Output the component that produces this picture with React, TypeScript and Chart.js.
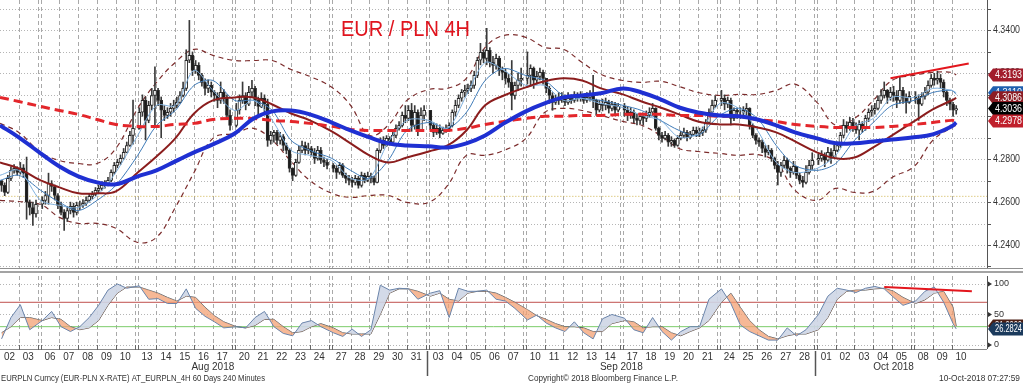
import { useEffect, useRef } from "react";
import { Chart, registerables } from "chart.js";

Chart.register(...registerables);

// ---------------- DATA ----------------
const dayLabels = [
  "02", "03", "06", "07", "08", "09", "10", "13", "14", "15", "16", "17", "20", "21", "22", "23", "24", "27", "28", "29", "30", "31",
  "03", "04", "05", "06", "07", "10", "11", "12", "13", "14", "17", "18", "19", "20", "21", "24", "25", "26", "27", "28",
  "01", "02", "03", "04", "05", "08", "09", "10",
];
const monthLabels = ["Aug 2018", "Sep 2018", "Oct 2018"];
const monthFirstDay = [0, 22, 42];
const fridayIdx = [1, 6, 11, 16, 21, 26, 31, 36, 41, 46];

const firstOpen = 4.27;
// 4H closes, 6 per trading day
const closes = [
  4.2678, 4.2645, 4.2711, 4.2748, 4.2757, 4.2739,
  4.2760, 4.2735, 4.2600, 4.2575, 4.2545, 4.2590,
  4.2608, 4.2631, 4.2687, 4.2673, 4.2631, 4.2585,
  4.2552, 4.2524, 4.2561, 4.2580, 4.2552, 4.2585,
  4.2585, 4.2594, 4.2608, 4.2627, 4.2636, 4.2655,
  4.2664, 4.2678, 4.2687, 4.2701, 4.2739, 4.2771,
  4.2785, 4.2804, 4.2832, 4.2864, 4.2911, 4.2944,
  4.3019, 4.3074, 4.2981, 4.3051, 4.3097, 4.3121,
  4.3074, 4.3028, 4.3004, 4.3019, 4.3037, 4.3051,
  4.3065, 4.3097, 4.3130, 4.3261, 4.3284, 4.3214,
  4.3237, 4.3191, 4.3158, 4.3130, 4.3144, 4.3112,
  4.3097, 4.3074, 4.3112, 4.3084, 4.3004, 4.2958,
  4.3028, 4.3074, 4.3097, 4.3056, 4.3112, 4.3130,
  4.3074, 4.3046, 4.3084, 4.3056, 4.2888, 4.2911,
  4.2925, 4.2888, 4.2906, 4.2864, 4.2841, 4.2757,
  4.2725, 4.2785, 4.2841, 4.2864, 4.2841, 4.2850,
  4.2832, 4.2804, 4.2841, 4.2795, 4.2785, 4.2771,
  4.2757, 4.2739, 4.2771, 4.2725, 4.2711, 4.2701,
  4.2692, 4.2711, 4.2678, 4.2725, 4.2701, 4.2720,
  4.2711, 4.2692, 4.2841, 4.2888, 4.2864, 4.2897,
  4.2879, 4.2911, 4.2944, 4.2958, 4.3004, 4.2990,
  4.3028, 4.2958, 4.3019, 4.2935, 4.3004, 4.3028,
  4.2958, 4.2925, 4.2944, 4.2920, 4.2935, 4.2944,
  4.2958, 4.3019, 4.3051, 4.3084, 4.3112, 4.3121,
  4.3130, 4.3144, 4.3191, 4.3261, 4.3298, 4.3270,
  4.3307, 4.3251, 4.3237, 4.3270, 4.3214, 4.3205,
  4.3177, 4.3158, 4.3097, 4.3144, 4.3168, 4.3177,
  4.3191, 4.3223, 4.3168, 4.3186, 4.3205, 4.3177,
  4.3130, 4.3097, 4.3065, 4.3084, 4.3074, 4.3093,
  4.3065, 4.3084, 4.3074, 4.3097, 4.3084, 4.3093,
  4.3074, 4.3088, 4.3097, 4.3074, 4.3028, 4.3056,
  4.3051, 4.3065, 4.3037, 4.3056, 4.3028, 4.3046,
  4.3028, 4.3004, 4.3019, 4.2990, 4.2981, 4.3000,
  4.2990, 4.3004, 4.3019, 4.3037, 4.2944, 4.2911,
  4.2897, 4.2911, 4.2879, 4.2888, 4.2864, 4.2897,
  4.2911, 4.2925, 4.2902, 4.2916, 4.2935, 4.2920,
  4.2925, 4.2935, 4.2972, 4.3019, 4.3051, 4.3074,
  4.3084, 4.3056, 4.3074, 4.2990, 4.3028, 4.3019,
  4.3019, 4.3028, 4.3037, 4.2958, 4.2911, 4.2888,
  4.2879, 4.2850, 4.2832, 4.2841, 4.2804, 4.2771,
  4.2739, 4.2771, 4.2795, 4.2757, 4.2739, 4.2767,
  4.2725, 4.2701, 4.2692, 4.2739, 4.2771, 4.2795,
  4.2804, 4.2818, 4.2795, 4.2832, 4.2813, 4.2841,
  4.2864, 4.2911, 4.2958, 4.2944, 4.2972, 4.2954,
  4.2935, 4.2963, 4.2944, 4.2990, 4.3019, 4.3028,
  4.3037, 4.3074, 4.3097, 4.3121, 4.3088, 4.3112,
  4.3097, 4.3074, 4.3121, 4.3084, 4.3065, 4.3093,
  4.3084, 4.3056, 4.3093, 4.3112, 4.3144, 4.3177,
  4.3168, 4.3177, 4.3158, 4.3112, 4.3074, 4.3056,
  4.3028, 4.3036,
];
const highs = [
  4.2700, 4.2690, 4.2725, 4.2765, 4.2775, 4.2765,
  4.2785, 4.2775, 4.2810, 4.2610, 4.2600, 4.2610,
  4.2625, 4.2650, 4.2735, 4.2700, 4.2680, 4.2640,
  4.2600, 4.2565, 4.2580, 4.2600, 4.2595, 4.2600,
  4.2605, 4.2612, 4.2625, 4.2640, 4.2650, 4.2668,
  4.2680, 4.2695, 4.2700, 4.2715, 4.2750, 4.2785,
  4.2800, 4.2820, 4.2850, 4.2880, 4.2930, 4.3075,
  4.3040, 4.3100, 4.3090, 4.3070, 4.3130, 4.3230,
  4.3130, 4.3090, 4.3050, 4.3040, 4.3060, 4.3075,
  4.3090, 4.3115, 4.3160, 4.3310, 4.3447, 4.3300,
  4.3260, 4.3250, 4.3200, 4.3175, 4.3170, 4.3160,
  4.3120, 4.3110, 4.3160, 4.3125, 4.3100, 4.3030,
  4.3060, 4.3100, 4.3160, 4.3110, 4.3140, 4.3168,
  4.3140, 4.3090, 4.3110, 4.3100, 4.3080, 4.2930,
  4.2935, 4.2935, 4.2925, 4.2915, 4.2875, 4.2850,
  4.2760, 4.2800, 4.2860, 4.2885, 4.2880, 4.2875,
  4.2860, 4.2850, 4.2860, 4.2855, 4.2810, 4.2800,
  4.2780, 4.2770, 4.2785, 4.2780, 4.2735, 4.2725,
  4.2715, 4.2725, 4.2720, 4.2740, 4.2735, 4.2740,
  4.2735, 4.2720, 4.2850, 4.2900, 4.2905, 4.2910,
  4.2905, 4.2925, 4.2960, 4.2975, 4.3020, 4.3050,
  4.3050, 4.3060, 4.3050, 4.3030, 4.3040, 4.3050,
  4.3000, 4.2970, 4.2965, 4.2960, 4.2950, 4.2960,
  4.2970, 4.3030, 4.3075, 4.3100, 4.3125, 4.3145,
  4.3150, 4.3165, 4.3210, 4.3275, 4.3340, 4.3310,
  4.3410, 4.3320, 4.3280, 4.3290, 4.3280, 4.3230,
  4.3220, 4.3195, 4.3260, 4.3160, 4.3200, 4.3225,
  4.3300, 4.3240, 4.3230, 4.3210, 4.3225, 4.3215,
  4.3170, 4.3140, 4.3110, 4.3100, 4.3110, 4.3110,
  4.3100, 4.3110, 4.3100, 4.3115, 4.3110, 4.3115,
  4.3100, 4.3110, 4.3120, 4.3191, 4.3080, 4.3075,
  4.3080, 4.3085, 4.3075, 4.3070, 4.3065, 4.3060,
  4.3060, 4.3045, 4.3040, 4.3030, 4.3010, 4.3015,
  4.3015, 4.3025, 4.3040, 4.3060, 4.3040, 4.2950,
  4.2925, 4.2930, 4.2920, 4.2905, 4.2895, 4.2910,
  4.2930, 4.2945, 4.2935, 4.2930, 4.2950, 4.2950,
  4.2945, 4.2950, 4.2985, 4.3035, 4.3075, 4.3095,
  4.3121, 4.3100, 4.3090, 4.3085, 4.3040, 4.3040,
  4.3040, 4.3045, 4.3060, 4.3040, 4.2965, 4.2920,
  4.2900, 4.2890, 4.2865, 4.2865, 4.2850, 4.2810,
  4.2790, 4.2785, 4.2815, 4.2805, 4.2765, 4.2790,
  4.2760, 4.2735, 4.2720, 4.2770, 4.2795, 4.2830,
  4.2825, 4.2840, 4.2830, 4.2855, 4.2850, 4.2865,
  4.2880, 4.2925, 4.2985, 4.2975, 4.2995, 4.2990,
  4.2970, 4.2980, 4.2975, 4.3005, 4.3035, 4.3050,
  4.3060, 4.3095, 4.3125, 4.3160, 4.3125, 4.3135,
  4.3140, 4.3120, 4.3185, 4.3135, 4.3105, 4.3115,
  4.3115, 4.3100, 4.3110, 4.3135, 4.3165, 4.3195,
  4.3200, 4.3210, 4.3195, 4.3170, 4.3120, 4.3085,
  4.3065, 4.3050,
];
const lows = [
  4.2650, 4.2630, 4.2640, 4.2700, 4.2735, 4.2725,
  4.2730, 4.2715, 4.2520, 4.2540, 4.2492, 4.2530,
  4.2570, 4.2590, 4.2590, 4.2650, 4.2610, 4.2570,
  4.2540, 4.2468, 4.2510, 4.2545, 4.2530, 4.2540,
  4.2565, 4.2575, 4.2585, 4.2600, 4.2615, 4.2630,
  4.2640, 4.2655, 4.2665, 4.2675, 4.2695, 4.2730,
  4.2760, 4.2775, 4.2800, 4.2830, 4.2860, 4.2870,
  4.2940, 4.3000, 4.2890, 4.2970, 4.3030, 4.2950,
  4.3050, 4.2900, 4.2980, 4.2990, 4.3000, 4.3020,
  4.3040, 4.3060, 4.3090, 4.3120, 4.3250, 4.3190,
  4.3200, 4.3170, 4.3140, 4.3100, 4.3110, 4.3090,
  4.3070, 4.3040, 4.3060, 4.3060, 4.2990, 4.2935,
  4.2950, 4.3010, 4.3060, 4.3030, 4.3050, 4.3090,
  4.3050, 4.3000, 4.3040, 4.3010, 4.2860, 4.2870,
  4.2880, 4.2870, 4.2870, 4.2840, 4.2825, 4.2740,
  4.2700, 4.2720, 4.2780, 4.2830, 4.2820, 4.2825,
  4.2815, 4.2780, 4.2795, 4.2780, 4.2765, 4.2755,
  4.2740, 4.2710, 4.2730, 4.2715, 4.2690, 4.2680,
  4.2670, 4.2680, 4.2665, 4.2670, 4.2690, 4.2695,
  4.2690, 4.2680, 4.2690, 4.2830, 4.2850, 4.2860,
  4.2865, 4.2870, 4.2900, 4.2935, 4.2950, 4.2970,
  4.2980, 4.2930, 4.2940, 4.2910, 4.2930, 4.2980,
  4.2940, 4.2905, 4.2915, 4.2900, 4.2915, 4.2925,
  4.2930, 4.2950, 4.3000, 4.3040, 4.3070, 4.3090,
  4.3105, 4.3115, 4.3130, 4.3180, 4.3240, 4.3250,
  4.3240, 4.3230, 4.3200, 4.3220, 4.3190, 4.3170,
  4.3150, 4.3135, 4.3030, 4.3080, 4.3120, 4.3140,
  4.3150, 4.3140, 4.3130, 4.3150, 4.3170, 4.3150,
  4.3110, 4.3060, 4.3028, 4.3055, 4.3055, 4.3065,
  4.3050, 4.3055, 4.3060, 4.3065, 4.3070, 4.3070,
  4.3060, 4.3065, 4.3070, 4.3040, 4.3004, 4.3020,
  4.3025, 4.3030, 4.3015, 4.3025, 4.3010, 4.3020,
  4.3000, 4.2980, 4.2990, 4.2970, 4.2960, 4.2965,
  4.2960, 4.2975, 4.2995, 4.3005, 4.2935, 4.2890,
  4.2880, 4.2890, 4.2860, 4.2860, 4.2855, 4.2860,
  4.2890, 4.2900, 4.2885, 4.2895, 4.2910, 4.2905,
  4.2905, 4.2910, 4.2925, 4.2965, 4.3010, 4.3040,
  4.3050, 4.3030, 4.3040, 4.2960, 4.2980, 4.2990,
  4.2990, 4.2995, 4.3005, 4.2940, 4.2900, 4.2870,
  4.2860, 4.2830, 4.2810, 4.2820, 4.2790, 4.2755,
  4.2680, 4.2720, 4.2760, 4.2735, 4.2715, 4.2730,
  4.2710, 4.2685, 4.2670, 4.2685, 4.2730, 4.2750,
  4.2775, 4.2790, 4.2765, 4.2790, 4.2780, 4.2810,
  4.2835, 4.2855, 4.2900, 4.2925, 4.2935, 4.2930,
  4.2920, 4.2890, 4.2925, 4.2935, 4.2975, 4.3000,
  4.3010, 4.3030, 4.3060, 4.3085, 4.3060, 4.3075,
  4.3070, 4.3040, 4.3060, 4.3060, 4.3014, 4.3060,
  4.3060, 4.2981, 4.3050, 4.3080, 4.3100, 4.3135,
  4.3145, 4.3150, 4.3130, 4.3090, 4.3050, 4.3030,
  4.3000, 4.3010,
];

// indicators read at each day start (50) + last bar
const blueMA = [
  4.2958, 4.2902, 4.2827, 4.2766, 4.2720, 4.2692, 4.2683, 4.2720, 4.2748, 4.2790,
  4.2832, 4.2869, 4.2920, 4.2990, 4.3023, 4.3027, 4.3009, 4.2971, 4.2934, 4.2902,
  4.2874, 4.2864, 4.2860, 4.2855, 4.2874, 4.2911, 4.2967, 4.3023, 4.3060, 4.3088,
  4.3097, 4.3107, 4.3130, 4.3111, 4.3079, 4.3041, 4.3018, 4.3004, 4.3000, 4.2985,
  4.2958, 4.2925, 4.2897, 4.2874, 4.2874, 4.2883, 4.2892, 4.2902, 4.2916, 4.2953,
  4.2971,
];
const redMA = [
  4.3088, 4.3069, 4.3046, 4.3027, 4.3009, 4.2985, 4.2962, 4.2953, 4.2953, 4.2962,
  4.2967, 4.2985, 4.2990, 4.2990, 4.2981, 4.2976, 4.2967, 4.2953, 4.2939, 4.2934,
  4.2934, 4.2934, 4.2934, 4.2934, 4.2944, 4.2962, 4.2976, 4.2990, 4.3000, 4.3000,
  4.3004, 4.3004, 4.3009, 4.3009, 4.3009, 4.3004, 4.3004, 4.3000, 4.3000, 4.2985,
  4.2976, 4.2962, 4.2953, 4.2948, 4.2948, 4.2948, 4.2953, 4.2962, 4.2971, 4.2981,
  4.2978,
];
const bbMid = [
  4.2785, 4.2757, 4.2701, 4.2669, 4.2641, 4.2641, 4.2650, 4.2738, 4.2813, 4.2897,
  4.3013, 4.3074, 4.3088, 4.3088, 4.3055, 4.3013, 4.2981, 4.2930, 4.2874, 4.2818,
  4.2785, 4.2808, 4.2836, 4.2864, 4.2934, 4.3051, 4.3097, 4.3135, 4.3163, 4.3177,
  4.3167, 4.3130, 4.3102, 4.3069, 4.3041, 4.3009, 4.2976, 4.2962, 4.2962, 4.2948,
  4.2925, 4.2883, 4.2832, 4.2804, 4.2808, 4.2855, 4.2911, 4.2976, 4.3032, 4.3074,
  4.3086,
];
const bbUpper = [
  4.2967, 4.2925, 4.2832, 4.2794, 4.2780, 4.2780, 4.2850, 4.3037, 4.3158, 4.3251,
  4.3312, 4.3284, 4.3260, 4.3260, 4.3260, 4.3218, 4.3186, 4.3135, 4.3051, 4.2911,
  4.2958, 4.3074, 4.3125, 4.3130, 4.3177, 4.3321, 4.3377, 4.3368, 4.3321, 4.3312,
  4.3251, 4.3195, 4.3167, 4.3158, 4.3163, 4.3139, 4.3111, 4.3097, 4.3102, 4.3102,
  4.3121, 4.3150, 4.3065, 4.2958, 4.2990, 4.3074, 4.3167, 4.3191, 4.3205, 4.3205,
  4.3193,
];
const bbLower = [
  4.2608, 4.2603, 4.2589, 4.2529, 4.2501, 4.2501, 4.2478, 4.2412, 4.2436, 4.2575,
  4.2738, 4.2897, 4.2920, 4.2944, 4.2888, 4.2790, 4.2701, 4.2641, 4.2622, 4.2631,
  4.2631, 4.2599, 4.2599, 4.2678, 4.2818, 4.2818, 4.2841, 4.2897, 4.3018, 4.3037,
  4.3027, 4.3004, 4.2976, 4.2958, 4.2911, 4.2850, 4.2836, 4.2827, 4.2818, 4.2822,
  4.2785, 4.2655, 4.2608, 4.2664, 4.2645, 4.2650, 4.2715, 4.2766, 4.2888, 4.2948,
  4.2958,
];
const fastMA = [
  4.2725, 4.2748, 4.2608, 4.2585, 4.2575, 4.2631, 4.2738, 4.2911, 4.3051, 4.3051,
  4.3214, 4.3121, 4.3027, 4.3074, 4.2981, 4.2841, 4.2818, 4.2794, 4.2711, 4.2711,
  4.2878, 4.2981, 4.2981, 4.2944, 4.3097, 4.3251, 4.3214, 4.3144, 4.3144, 4.3074,
  4.3083, 4.3060, 4.3041, 4.3004, 4.2981, 4.2902, 4.2920, 4.3060, 4.3037, 4.2934,
  4.2785, 4.2738, 4.2757, 4.2818, 4.2953, 4.2990, 4.3088, 4.3088, 4.3130, 4.3121,
  4.3110,
];
const slowMA = [
  4.2701, 4.2725, 4.2655, 4.2599, 4.2561, 4.2608, 4.2678, 4.2818, 4.2958, 4.3027,
  4.3144, 4.3167, 4.3074, 4.3074, 4.3027, 4.2888, 4.2841, 4.2804, 4.2748, 4.2711,
  4.2794, 4.2934, 4.2971, 4.2944, 4.3018, 4.3167, 4.3223, 4.3190, 4.3167, 4.3097,
  4.3083, 4.3074, 4.3051, 4.3027, 4.2981, 4.2934, 4.2911, 4.3004, 4.3037, 4.2990,
  4.2864, 4.2771, 4.2748, 4.2780, 4.2888, 4.2971, 4.3051, 4.3074, 4.3111, 4.3121,
  4.3102,
];
const supportLevel = 4.2627;
const trendBars = [275, 299];
const trendValues = [4.3177, 4.3246];

// RSI read twice a day (slot 0 and slot 3)
const rsi = [
  10, 45, 66, 25, 40, 55, 30, 22, 30, 45,
  65, 90, 100, 93, 97, 75, 76, 68, 68, 92,
  60, 47, 38, 28, 30, 28, 45, 55, 30, 19,
  15, 36, 40, 30, 20, 14, 26, 14, 25, 98,
  90, 93, 92, 75, 85, 89, 45, 93, 88, 88,
  90, 75, 72, 60, 41, 49, 36, 28, 22, 38,
  20, 10, 43, 50, 44, 25, 20, 45, 22, 8,
  22, 30, 30, 75, 92, 68, 33, 22, 15, 8,
  8, 28, 15, 25, 50, 80, 93, 90, 86, 93,
  96, 92, 78, 65, 72, 88, 95, 70, 35, 26.2824,
];
const rsiSignal = [
  20, 30, 45, 45, 40, 45, 42, 30, 25, 28,
  40, 65, 85, 95, 95, 90, 85, 78, 72, 80,
  78, 62, 48, 38, 30, 28, 32, 42, 42, 30,
  20, 22, 30, 35, 28, 20, 18, 18, 18, 50,
  85, 92, 92, 88, 80, 85, 75, 72, 85, 88,
  88, 85, 78, 70, 58, 48, 42, 35, 30, 30,
  28, 22, 22, 35, 40, 38, 28, 30, 30, 20,
  15, 22, 28, 40, 70, 85, 62, 40, 25, 14,
  10, 15, 18, 18, 25, 45, 75, 88, 90, 90,
  92, 93, 88, 78, 68, 74, 85, 88, 62, 31,
];
const rsiTrendBars = [273, 300];
const rsiTrendValues = [95, 88];
const rsiLevels = [70, 30];

const footerLeft = "EURPLN Curncy (EUR-PLN X-RATE) AT_EURPLN_4H 60 Days 240 Minutes";
const footerMid = "Copyright\u00a9 2018 Bloomberg Finance L.P.";
const footerRight = "10-Oct-2018 07:27:59";
const titleText = "EUR / PLN 4H";

// ---------------- LAYOUT ----------------
const W = 1023;
const H = 384;
const PLOT_RIGHT = 987;
const PX_PER_UNIT = 3.13;
const X_MAX = PLOT_RIGHT / PX_PER_UNIT;
const MAIN_H = 268;
const RSI_TOP = 266;
const RSI_H = H - RSI_TOP;
const FONT = '"Liberation Sans", Arial, sans-serif';

const weekendsBefore = (d: number) => fridayIdx.filter((f) => f < d).length;
const dayStart = (d: number) => d * 6 + weekendsBefore(d);
const barX = (b: number) => {
  const d = Math.floor(b / 6);
  return dayStart(d) + (b - d * 6) + 0.5;
};
const lastBar = closes.length - 1;
const indX = (k: number) => (k < 50 ? dayStart(k) : barX(lastBar));
const rsiX = (k: number) => barX(Math.min(Math.floor(k / 2) * 6 + (k % 2) * 3, lastBar));
const opens = closes.map((c, i) => (i === 0 ? firstOpen : closes[i - 1]));
const last = (a: number[]) => a[a.length - 1];

const boundaries: number[] = [];
for (let d = 1; d < dayLabels.length; d++) {
  boundaries.push(dayStart(d));
  if (fridayIdx.includes(d - 1)) boundaries.push(dayStart(d) - 1);
}

const lineDs = (data: any[], color: string, width: number, extra: any = {}) => ({
  type: "line",
  data,
  borderColor: color,
  borderWidth: width,
  pointRadius: 0,
  fill: false,
  ...extra,
});
const indPts = (a: number[]) => a.map((v, k) => ({ x: indX(k), y: v }));

function drawText(ctx: any, s: string, x: number, y: number, size: number, color: string, align: string, maxW?: number) {
  ctx.font = `${size}px ${FONT}`;
  ctx.fillStyle = color;
  ctx.textAlign = align;
  ctx.textBaseline = "middle";
  if (maxW) ctx.fillText(s, x, y, maxW);
  else ctx.fillText(s, x, y);
}
function valueBox(ctx: any, y: number, s: string, bg: string) {
  ctx.beginPath();
  ctx.moveTo(988, y);
  ctx.lineTo(993, y - 6.5);
  ctx.lineTo(W, y - 6.5);
  ctx.lineTo(W, y + 6.5);
  ctx.lineTo(993, y + 6.5);
  ctx.closePath();
  ctx.fillStyle = bg;
  ctx.fill();
  drawText(ctx, s, 995, y + 0.5, 10, "#ffffff", "left", 27);
}
function vGrid(chart: any) {
  const { ctx, chartArea, scales } = chart;
  ctx.save();
  ctx.strokeStyle = "#a9a9a9";
  ctx.lineWidth = 1;
  ctx.setLineDash([4, 3]);
  for (const u of boundaries) {
    const px = Math.round(scales.x.getPixelForValue(u)) + 0.5;
    ctx.beginPath();
    ctx.moveTo(px, chartArea.top);
    ctx.lineTo(px, chartArea.bottom);
    ctx.stroke();
  }
  ctx.restore();
}

const mainDecor = {
  id: "mainDecor",
  beforeDatasetsDraw(chart: any) {
    const { ctx, chartArea, scales } = chart;
    ctx.save();
    ctx.strokeStyle = "#b5b5b5";
    ctx.lineWidth = 1;
    ctx.setLineDash([1, 2]);
    for (let k = 423; k <= 435; k++) {
      const py = Math.round(scales.y.getPixelForValue(k / 100)) + 0.5;
      ctx.beginPath();
      ctx.moveTo(chartArea.left, py);
      ctx.lineTo(chartArea.right, py);
      ctx.stroke();
    }
    ctx.restore();
    vGrid(chart);
  },
  afterDraw(chart: any) {
    const { ctx, chartArea, scales } = chart;
    ctx.save();
    ctx.strokeStyle = "#555";
    ctx.lineWidth = 1;
    ctx.beginPath();
    ctx.moveTo(PLOT_RIGHT + 0.5, 0);
    ctx.lineTo(PLOT_RIGHT + 0.5, chartArea.bottom);
    ctx.stroke();
    for (let k = 423; k <= 435; k++) {
      const py = Math.round(scales.y.getPixelForValue(k / 100)) + 0.5;
      ctx.beginPath();
      ctx.moveTo(PLOT_RIGHT, py);
      ctx.lineTo(PLOT_RIGHT + 4, py);
      ctx.stroke();
      if (k % 2 === 0) drawText(ctx, (k / 100).toFixed(4), 993, py, 10, "#333", "left", 27);
    }
    const boxes = [
      { v: last(bbUpper), bg: "#a21d2c" },
      { v: last(fastMA), bg: "#1f5fae" },
      { v: last(bbMid), bg: "#8c1c24" },
      { v: last(closes), bg: "#000000" },
      { v: last(redMA), bg: "#c0202c" },
    ];
    for (const b of boxes) valueBox(ctx, scales.y.getPixelForValue(b.v), b.v.toFixed(4), b.bg);
    ctx.font = `22px ${FONT}`;
    ctx.fillStyle = "#e0141e";
    ctx.textAlign = "left";
    ctx.textBaseline = "alphabetic";
    ctx.fillText(titleText, 341, 36, 129);
    ctx.restore();
  },
};

const rsiDecor = {
  id: "rsiDecor",
  beforeDatasetsDraw(chart: any) {
    const { ctx, chartArea, scales } = chart;
    ctx.save();
    ctx.fillStyle = "#8f8f8f";
    ctx.fillRect(0, 2, W, 1);
    ctx.fillStyle = "#a3a3a3";
    ctx.fillRect(0, 5, W, 2);
    ctx.strokeStyle = "#b5b5b5";
    ctx.lineWidth = 1;
    ctx.setLineDash([1, 2]);
    for (const v of [0, 50, 100]) {
      const py = Math.round(scales.y.getPixelForValue(v)) + 0.5;
      ctx.beginPath();
      ctx.moveTo(chartArea.left, py);
      ctx.lineTo(chartArea.right, py);
      ctx.stroke();
    }
    ctx.restore();
    vGrid(chart);
  },
  afterDraw(chart: any) {
    const { ctx, chartArea, scales } = chart;
    ctx.save();
    ctx.strokeStyle = "#555";
    ctx.lineWidth = 1;
    ctx.beginPath();
    ctx.moveTo(PLOT_RIGHT + 0.5, chartArea.top);
    ctx.lineTo(PLOT_RIGHT + 0.5, chartArea.bottom);
    ctx.stroke();
    for (const v of [0, 50, 100]) {
      const py = scales.y.getPixelForValue(v);
      ctx.fillStyle = "#333";
      ctx.beginPath();
      ctx.moveTo(PLOT_RIGHT + 1, py - 2.5);
      ctx.lineTo(PLOT_RIGHT + 5, py);
      ctx.lineTo(PLOT_RIGHT + 1, py + 2.5);
      ctx.closePath();
      ctx.fill();
      drawText(ctx, String(v), 994, py, 9, "#333", "left");
    }
    valueBox(ctx, scales.y.getPixelForValue(last(rsiSignal)), last(rsiSignal).toFixed(4), "#4a1e14");
    valueBox(ctx, scales.y.getPixelForValue(last(rsi)), last(rsi).toFixed(4), "#1b3a5c");

    // bottom time axis
    const base = chartArea.bottom;
    ctx.strokeStyle = "#8a8a8a";
    ctx.beginPath();
    ctx.moveTo(0, base + 0.5);
    ctx.lineTo(PLOT_RIGHT, base + 0.5);
    ctx.stroke();
    ctx.strokeStyle = "#666";
    for (const u of boundaries) {
      const px = Math.round(scales.x.getPixelForValue(u)) + 0.5;
      ctx.beginPath();
      ctx.moveTo(px, base - 4);
      ctx.lineTo(px, base + 1);
      ctx.stroke();
    }
    dayLabels.forEach((lab, d) => {
      drawText(ctx, lab, scales.x.getPixelForValue(dayStart(d) + 3), 357 - RSI_TOP, 10, "#333", "center", 11);
    });
    monthLabels.forEach((lab, m) => {
      const a = dayStart(monthFirstDay[m]);
      const lastDay = m + 1 < monthFirstDay.length ? monthFirstDay[m + 1] - 1 : dayLabels.length - 1;
      const b = dayStart(lastDay) + 6;
      drawText(ctx, lab, scales.x.getPixelForValue((a + b) / 2), 367 - RSI_TOP, 10, "#333", "center");
      if (m > 0) {
        const px = Math.round(scales.x.getPixelForValue(a - 0.5)) + 0.5;
        ctx.strokeStyle = "#555";
        ctx.lineWidth = 1.5;
        ctx.beginPath();
        ctx.moveTo(px, base + 2);
        ctx.lineTo(px, 376 - RSI_TOP);
        ctx.stroke();
        ctx.lineWidth = 1;
      }
    });
    drawText(ctx, footerLeft, 1, 379 - RSI_TOP, 9, "#333", "left", 264);
    drawText(ctx, footerMid, 528, 379 - RSI_TOP, 9, "#333", "left", 150);
    drawText(ctx, footerRight, 1020, 379 - RSI_TOP, 9, "#333", "right", 81);
    ctx.restore();
  },
};

export default function App() {
  const mainRef = useRef<HTMLCanvasElement>(null);
  const rsiRef = useRef<HTMLCanvasElement>(null);

  useEffect(() => {
    const xScale = { type: "linear", min: 0, max: X_MAX, display: false, offset: false };
    const common = {
      animation: false,
      responsive: false,
      maintainAspectRatio: false,
      events: [],
      plugins: { legend: { display: false }, tooltip: { enabled: false } },
    };

    const main = new Chart(mainRef.current as HTMLCanvasElement, {
      type: "bar",
      data: {
        datasets: [
          lineDs(trendBars.map((b, i) => ({ x: barX(b), y: trendValues[i] })), "#e3161d", 2),
          lineDs(indPts(blueMA), "#1f30d2", 4, { tension: 0.4 }),
          lineDs(indPts(redMA), "#e3262b", 3, { tension: 0.4, borderDash: [9, 5] }),
          lineDs(indPts(bbMid), "#8b1d1d", 2, { tension: 0.4 }),
          lineDs(indPts(fastMA), "#7fb0dd", 1, { tension: 0.3 }),
          lineDs(indPts(slowMA), "#3f7bb8", 1, { tension: 0.3 }),
          {
            type: "bar",
            data: closes.map((c, i) => ({ x: barX(i), y: [opens[i], c] })),
            backgroundColor: closes.map((c, i) => (c >= opens[i] ? "#ffffff" : "#1c1c1c")),
            borderColor: "#2a2a2a",
            borderWidth: 1,
            borderSkipped: false,
            barThickness: 3,
            grouped: false,
          },
          {
            type: "bar",
            data: closes.map((c, i) => ({ x: barX(i), y: [lows[i], highs[i]] })),
            backgroundColor: "#3a3a3a",
            borderWidth: 0,
            barThickness: 1,
            grouped: false,
          },
          lineDs(indPts(bbUpper), "#7b2b2b", 1.2, { tension: 0.4, borderDash: [5, 4] }),
          lineDs(indPts(bbLower), "#7b2b2b", 1.2, { tension: 0.4, borderDash: [5, 4] }),
          lineDs([{ x: -5, y: supportLevel }, { x: X_MAX + 5, y: supportLevel }], "#cdb24a", 1, { borderDash: [1, 2] }),
        ],
      } as any,
      options: {
        ...common,
        layout: { padding: { left: 0, right: W - PLOT_RIGHT, top: 0, bottom: 0 } },
        scales: {
          x: xScale,
          y: { type: "linear", min: 4.2293, max: 4.3542, display: false },
        },
      } as any,
      plugins: [mainDecor],
    });

    const rsiChart = new Chart(rsiRef.current as HTMLCanvasElement, {
      type: "line",
      data: {
        datasets: [
          lineDs(rsiTrendBars.map((b, i) => ({ x: barX(b), y: rsiTrendValues[i] })), "#e3161d", 2),
          lineDs(rsi.map((v, k) => ({ x: rsiX(k), y: v })), "#6a84aa", 1, {
            fill: { target: "+1", above: "rgba(206,214,230,0.9)", below: "rgba(243,160,115,0.75)" },
          }),
          lineDs(rsiSignal.map((v, k) => ({ x: rsiX(k), y: v })), "#5a5a5a", 1),
          lineDs([{ x: -5, y: rsiLevels[0] }, { x: X_MAX + 5, y: rsiLevels[0] }], "#c0504d", 1),
          lineDs([{ x: -5, y: rsiLevels[1] }, { x: X_MAX + 5, y: rsiLevels[1] }], "#7ccc6a", 1),
        ],
      } as any,
      options: {
        ...common,
        layout: { padding: { left: 0, right: W - PLOT_RIGHT, top: 276 - RSI_TOP, bottom: H - 349 } },
        scales: {
          x: xScale,
          y: { type: "linear", min: -6.6, max: 113.1, display: false },
        },
      } as any,
      plugins: [rsiDecor],
    });

    return () => {
      main.destroy();
      rsiChart.destroy();
    };
  }, []);

  return (
    <div style={{ position: "absolute", left: 0, top: 0, width: W, height: H, background: "#fff" }}>
      <canvas ref={mainRef} width={W} height={MAIN_H} style={{ position: "absolute", left: 0, top: 0 }} />
      <canvas ref={rsiRef} width={W} height={RSI_H} style={{ position: "absolute", left: 0, top: RSI_TOP }} />
    </div>
  );
}
